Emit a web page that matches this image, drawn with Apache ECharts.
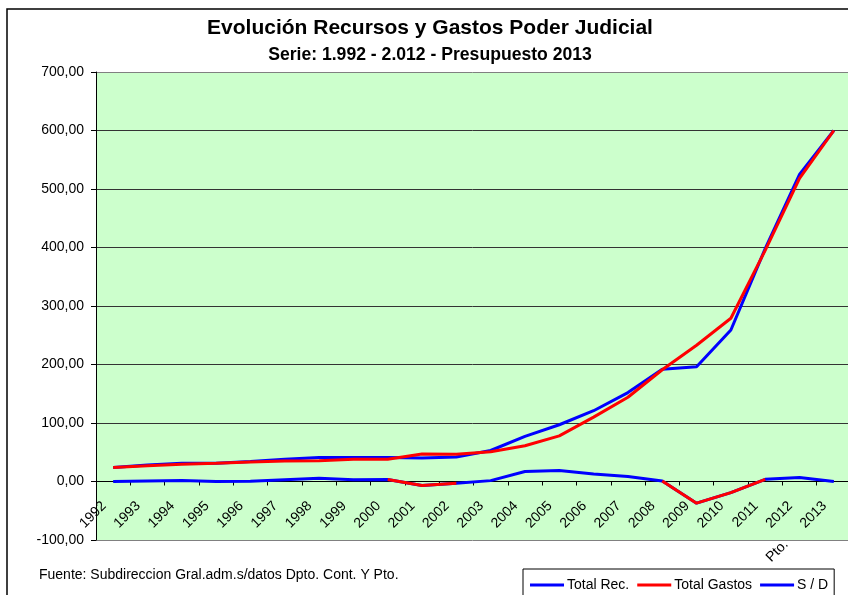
<!DOCTYPE html>
<html>
<head>
<meta charset="utf-8">
<title>Evolución Recursos y Gastos Poder Judicial</title>
<script src="https://cdn.jsdelivr.net/npm/echarts@6/dist/echarts.min.js"></script>
<style>
	html, body { margin: 0; padding: 0; background: #fff; }
	#chart { width: 848px; height: 595px; }
</style>
</head>
<body>
<div id="chart"></div>
<script>
var years = ['1992','1993','1994','1995','1996','1997','1998','1999','2000','2001','2002',
			 '2003','2004','2005','2006','2007','2008','2009','2010','2011','2012','2013'];
var totalRec = [24, 28, 31, 31, 34, 38, 41, 41, 41, 40, 42, 53, 77, 97, 121, 152, 192, 196, 259, 398, 525, 600];
var totalGastos = [24, 27, 29.5, 31, 33.5, 35, 35.5, 38, 38, 47, 46.5, 51, 61, 78, 110, 144, 191, 233, 279, 395, 518, 600];
var saldo = [0, 1, 1.5, 0, 0.5, 3, 5.5, 3, 3.5, -7, -3, 1.5, 17, 19, 13, 8.5, 1, -37, -19, 3.7, 7, 0];
// tramos del S/D que salen en rojo (indices de puntos)
var saldoRojo = [8, 9, 10, 16, 17, 18, 19];
var yTicks = [-100, 0, 100, 200, 300, 400, 500, 600, 700];

var fontName = "'Liberation Sans', Arial, sans-serif";

var gridTop = 72, gridHeight = 468;

function fmtNum(v){
	return v.toFixed(2).replace('.', ',');
}

function xLabel(value, idx){
	if(idx == years.length - 1){
		return 'Pto.      ' + value;
	}
	return value;
}

var rojo = [];
for(var i = 0; i < saldo.length; i++){
	rojo.push(saldoRojo.indexOf(i) >= 0 ? saldo[i] : '-');
}

var gridColors = [];
for(var i = 0; i < yTicks.length; i++){
	gridColors.push((i == 0 || i == yTicks.length - 1) ? '#808080' : '#333');
}

// el eje X va en el 0: lo subo desde el borde inferior
var yMin = yTicks[0], yMax = yTicks[yTicks.length - 1];
var xAxisOffset = -gridHeight * (0 - yMin) / (yMax - yMin);

var mycharts = echarts.init(document.getElementById('chart'), null, {renderer: 'canvas'});

var option = {
	backgroundColor: '#fff',
	animation: false,
	textStyle: { fontFamily: fontName, color: '#000' },
	title: [{
		text: 'Evolución Recursos y Gastos Poder Judicial',
		subtext: 'Serie: 1.992 - 2.012 - Presupuesto 2013',
		left: 430,
		textAlign: 'center',
		top: 18,
		itemGap: 7,
		padding: 0,
		textStyle: { fontFamily: fontName, fontSize: 21, fontWeight: 'bold', color: '#000' },
		subtextStyle: { fontFamily: fontName, fontSize: 17.6, fontWeight: 'bold', color: '#000' }
	}, {
		text: 'Fuente: Subdireccion Gral.adm.s/datos Dpto. Cont. Y Pto.',
		left: 39,
		top: 568,
		padding: 0,
		textStyle: { fontFamily: fontName, fontSize: 14, fontWeight: 'normal', color: '#000' }
	}],
	legend: {
		data: ['Total Rec.', 'Total Gastos', 'S / D'],
		left: 523,
		top: 569,
		orient: 'horizontal',
		icon: 'rect',
		itemWidth: 34,
		itemHeight: 3,
		itemGap: 8,
		padding: [9, 6, 14, 7],
		borderColor: '#000',
		borderWidth: 1,
		borderRadius: 0,
		textStyle: { fontFamily: fontName, fontSize: 14, color: '#000', padding: [0, 0, 0, -2] }
	},
	graphic: [{
		type: 'rect',
		z: -10,
		shape: { x: 7, y: 9, width: 900, height: 700 },
		style: { fill: 'none', stroke: '#000', lineWidth: 1.5 }
	}],
	grid: {
		left: 96,
		top: gridTop,
		right: -3,
		height: gridHeight,
		show: true,
		backgroundColor: '#CCFFCC',
		borderWidth: 0,
		outerBoundsMode: 'none',
		containLabel: false
	},
	xAxis: {
		type: 'category',
		data: years,
		boundaryGap: true,
		position: 'bottom',
		offset: xAxisOffset,
		axisLine: { onZero: false, lineStyle: { color: '#000', width: 1 } },
		axisTick: { show: true, interval: 0, length: 4, lineStyle: { color: '#000' } },
		axisLabel: {
			interval: 0,
			rotate: 45,
			margin: 13,
			padding: [0, 13, 0, 0],
			fontFamily: fontName,
			fontSize: 14,
			color: '#000',
			formatter: xLabel
		},
		splitLine: { show: false }
	},
	yAxis: {
		type: 'value',
		min: yMin,
		max: yMax,
		interval: 100,
		axisLine: { show: true, lineStyle: { color: '#000', width: 1 } },
		axisTick: { show: true, length: 5, lineStyle: { color: '#000' } },
		axisLabel: {
			margin: 12,
			fontFamily: fontName,
			fontSize: 14,
			color: '#000',
			formatter: fmtNum
		},
		splitLine: { show: true, lineStyle: { color: gridColors, width: 1 } }
	},
	series: [{
		name: 'Total Rec.',
		type: 'line',
		data: totalRec,
		symbol: 'none',
		itemStyle: { color: '#0000FF' },
		lineStyle: { color: '#0000FF', width: 3 }
	}, {
		name: 'Total Gastos',
		type: 'line',
		data: totalGastos,
		symbol: 'none',
		itemStyle: { color: '#FF0000' },
		lineStyle: { color: '#FF0000', width: 3 }
	}, {
		name: 'S / D',
		type: 'line',
		data: saldo,
		symbol: 'none',
		itemStyle: { color: '#0000FF' },
		lineStyle: { color: '#0000FF', width: 3 }
	}, {
		name: 'S / D negativo',
		type: 'line',
		data: rojo,
		symbol: 'none',
		connectNulls: false,
		itemStyle: { color: '#FF0000' },
		lineStyle: { color: '#FF0000', width: 3 }
	}]
};

mycharts.setOption(option);
</script>
</body>
</html>
